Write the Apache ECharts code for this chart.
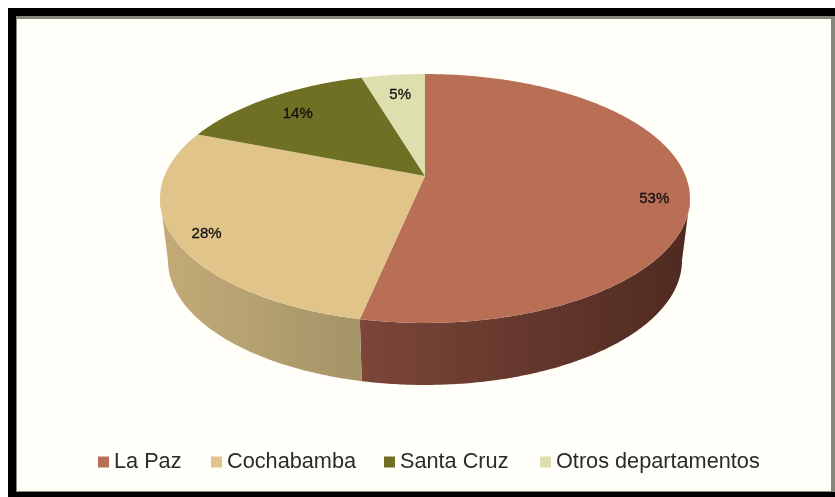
<!DOCTYPE html>
<html>
<head>
<meta charset="utf-8">
<style>html,body{margin:0;padding:0;background:#fff}#c{width:835px;height:497px}</style>
<script src="https://cdn.jsdelivr.net/npm/echarts@6/dist/echarts.min.js"></script>
</head>
<body>
<div id="c"></div>
<script>
const categories = ['La Paz', 'Cochabamba', 'Santa Cruz', 'Otros departamentos'];
const values = [53.3, 27.7, 14.4, 4.6];
const topColors = ['#b96f55', '#e0c48a', '#6f7024', '#dde0ae'];
const sideLeft = ['#7c4639', '#c4ab78', '#4f5018', '#a5a780'];
const sideRight = ['#4f2a20', '#a49468', '#4f5018', '#a5a780'];
// layout of the labels inside the slices and of the legend entries
const labelRadius = [0.87, 0.88, 0.8, 0.75];
const labelShift = [12, 4, 2, -2];
const legendLeft = [93, 206, 379, 535];

// perspective disc
const CX = 425, CY = 176, A = 260.6, B = 120.4, K = 0.1807, DEPTH = 62, LOWER_SCALE = 0.97;
const total = values.reduce((a, b) => a + b, 0);
const starts = [];
values.reduce((acc, v, i) => (starts[i] = acc, acc + v), 0);

function project(t, r) {
  const X = r * Math.sin(t), Y = -r * Math.cos(t), w = 1 / (1 - K * Y);
  return [CX + A * X * w, CY + B * Y * w];
}
function arc(t0, t1, dy, sx) {
  const n = Math.max(2, Math.ceil(Math.abs(t1 - t0) / 0.01)), pts = [];
  for (let i = 0; i <= n; i++) {
    const p = project(t0 + (t1 - t0) * i / n, 1);
    pts.push([CX + (p[0] - CX) * sx, p[1] + dy]);
  }
  return pts;
}
const VIS0 = Math.acos(-K), VIS1 = 2 * Math.PI - VIS0;

function renderSlice(params, api) {
  const i = params.seriesIndex;
  const v = api.value(0), s = api.value(1);
  const t0 = s / total * 2 * Math.PI, t1 = (s + v) / total * 2 * Math.PI;
  const children = [];
  const a = Math.max(t0, VIS0), b = Math.min(t1, VIS1);
  if (b > a) {
    const upper = arc(a, b, 0, 1), lower = arc(b, a, DEPTH, LOWER_SCALE);
    children.push({
      type: 'polygon',
      shape: { points: upper.concat(lower) },
      style: {
        fill: new echarts.graphic.LinearGradient(0, 0, 1, 0, [
          { offset: 0, color: sideLeft[i] }, { offset: 1, color: sideRight[i] }
        ])
      }
    });
  }
  children.push({
    type: 'polygon',
    shape: { points: [[CX, CY]].concat(arc(t0, t1, 0, 1)) },
    style: { fill: topColors[i] }
  });
  const mid = (t0 + t1) / 2, lp = project(mid, labelRadius[i]);
  children.push({
    type: 'text',
    style: {
      text: Math.round(v) + '%', x: lp[0], y: lp[1] + labelShift[i],
      align: 'center', verticalAlign: 'middle',
      fill: '#111', stroke: '#111', lineWidth: 0.3,
      font: '15px "Liberation Sans", Arial, sans-serif'
    }
  });
  return { type: 'group', children };
}

const chart = echarts.init(document.getElementById('c'), null, { renderer: 'canvas' });
chart.setOption({
  animation: false,
  backgroundColor: '#ffffff',
  graphic: [
    { type: 'rect', z: -10, shape: { x: 8, y: 8, width: 827, height: 489 }, style: { fill: '#000' } },
    { type: 'rect', z: -9, shape: { x: 16, y: 16, width: 819, height: 476 }, style: { fill: '#85857c' } },
    { type: 'rect', z: -8, shape: { x: 17, y: 19, width: 814, height: 472 }, style: { fill: '#fffef8' } }
  ],
  legend: categories.map((name, i) => ({
    left: legendLeft[i], top: 446, itemWidth: 11, itemHeight: 11,
    icon: 'rect',
    data: [name],
    textStyle: { fontFamily: '"Liberation Sans", Arial, sans-serif', fontSize: 21.7, color: '#2b2b2b' }
  })),
  xAxis: { show: false, type: 'value' },
  yAxis: { show: false, type: 'value' },
  grid: { left: 0, right: 0, top: 0, bottom: 0 },
  series: categories.map((name, i) => ({
    type: 'custom',
    name,
    coordinateSystem: 'none',
    itemStyle: { color: topColors[i] },
    renderItem: renderSlice,
    data: [[values[i], starts[i]]],
    silent: true
  }))
});
</script>
</body>
</html>
